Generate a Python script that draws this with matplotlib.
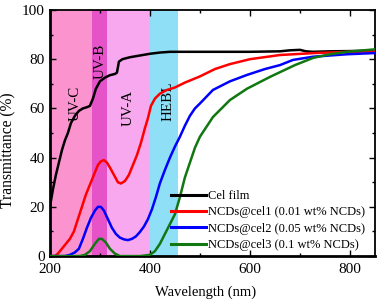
import matplotlib
matplotlib.use('Agg')
from matplotlib import pyplot as plt
from matplotlib.ticker import MultipleLocator

plt.rcParams['font.family'] = ['Liberation Serif', 'DejaVu Serif']

# spectral bands (nm)
bands = ['UV-C', 'UV-B', 'UV-A', 'HEBL']
band_edges = [(200, 285), (285, 315), (315, 400), (400, 456)]
band_colors = ['#fb93cf', '#e653c9', '#f8a8ee', '#8fe0f6']

wl_cel = [200, 206, 212, 218, 224, 230, 236, 242, 250, 258, 266, 274, 280, 286, 292, 300,
          310, 320, 330, 334, 338, 345, 360, 380, 400, 420, 440, 480, 520, 600, 660, 680,
          700, 712, 725, 760, 800, 850]
tr_cel = [20, 27, 33, 38, 43, 47, 50, 54, 57, 59, 60, 60.5, 61, 64, 68, 71,
          72.5, 73.5, 74, 74.5, 79, 80, 80.8, 81.5, 82.2, 82.7, 83, 83, 83, 83, 83.2, 83.6,
          83.8, 83.2, 83, 83.2, 83.3, 83.5]

wl_c1 = [200, 210, 216, 224, 232, 240, 248, 256, 264, 272, 280, 288, 296, 302, 308, 314,
         320, 328, 336, 342, 350, 358, 366, 374, 382, 390, 396, 402, 410, 420, 434, 450,
         470, 500, 530, 560, 600, 660, 730, 800, 850]
tr_c1 = [0, 0, 1, 3, 5, 7, 10, 15, 20, 25, 29, 33, 37, 38.5, 39, 38,
         36, 33, 30, 29.5, 30.5, 33, 37, 41, 46, 52, 56, 61, 64, 66, 67.5, 68.5,
         70.5, 73, 76, 78, 80, 81.7, 82.5, 83, 83.2]

wl_c2 = [200, 230, 240, 250, 258, 266, 274, 282, 290, 296, 302, 308, 316, 324, 332, 340,
         348, 356, 364, 372, 380, 388, 396, 404, 412, 420, 430, 440, 450, 460, 470, 480,
         490, 500, 526, 560, 594, 630, 660, 686, 726, 794, 850]
tr_c2 = [0, 0, 0.5, 1.5, 3, 7, 11.5, 15.5, 18.5, 20, 20, 18.5, 15, 11.5, 9, 7.5,
         6.8, 6.5, 7, 8, 9.8, 12, 15, 19, 24, 29.6, 35, 40, 44.5, 48.5, 53, 57,
         60, 62, 67.5, 71, 73.6, 76, 77.6, 79.7, 81, 82, 82.5]

wl_c3 = [200, 260, 270, 280, 290, 298, 304, 312, 320, 330, 340, 380, 400, 410, 420, 430,
         440, 450, 460, 470, 480, 490, 500, 526, 560, 594, 640, 690, 726, 760, 794, 850]
tr_c3 = [0, 0, 0.5, 2, 5, 7, 7, 5.5, 3, 1, 0, 0, 0.5, 2, 5, 9,
         13, 17, 24, 32, 38, 44, 48.5, 56.5, 63.4, 68, 72.8, 77.6, 80.5, 82, 83, 84]

series = [
    (wl_cel, tr_cel, 'black', 'Cel film'),
    (wl_c1, tr_c1, 'red', 'NCDs@cel1 (0.01 wt% NCDs)'),
    (wl_c2, tr_c2, 'blue', 'NCDs@cel2 (0.05 wt% NCDs)'),
    (wl_c3, tr_c3, '#117711', 'NCDs@cel3 (0.1 wt% NCDs)'),
]

fig = plt.figure(figsize=(3.78, 3.02), dpi=100)
ax = fig.add_axes([0.132, 0.152, 0.86, 0.815])

for (lo, hi), c in zip(band_edges, band_colors):
    ax.axvspan(lo, hi, color=c, lw=0, zorder=0)

for x, y, c, lab in series:
    ax.plot(x, y, color=c, lw=1.8, label=lab, zorder=3)

band_text = [(250, 62, 'UV-C'), (300, 79, 'UV-B'), (357, 60, 'UV-A'), (437, 63, 'HEBL')]
for x, y, t in band_text:
    ax.text(x, y, t, rotation=90, ha='center', va='center', fontsize=10.8, zorder=2)

ax.set_xlim(200, 850)
ax.set_ylim(0, 100)
ax.xaxis.set_major_locator(MultipleLocator(200))
ax.xaxis.set_minor_locator(MultipleLocator(100))
ax.yaxis.set_major_locator(MultipleLocator(20))
ax.yaxis.set_minor_locator(MultipleLocator(10))
ax.tick_params(which='both', direction='in', top=True, right=True, labelsize=11, width=1)
ax.tick_params(which='major', length=4)
ax.tick_params(which='minor', length=2.5)
ax.tick_params(axis='x', pad=5)
for s in ax.spines.values():
    s.set_linewidth(1.3)
ax.spines['left'].set_linewidth(2)
ax.spines['bottom'].set_linewidth(2)

ax.set_xlabel('Wavelength (nm)', fontsize=10.5)
ax.set_ylabel('Transmittance (%)', fontsize=11.2)
ax.xaxis.set_label_coords(0.48, -0.118)
ax.yaxis.set_label_coords(-0.103, 0.43)

leg = ax.legend(loc='lower right', frameon=False, fontsize=9.0, handlelength=2.8,
                handletextpad=0.2, labelspacing=0.35, borderaxespad=0.0,
                bbox_to_anchor=(0.985, 0.0))
for h in leg.get_lines():
    h.set_linewidth(2.2)

fig.savefig('out.png', dpi=100)
